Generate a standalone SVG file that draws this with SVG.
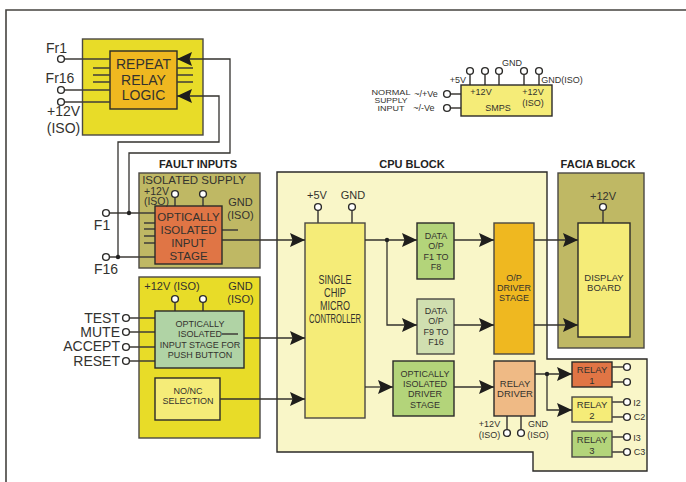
<svg xmlns="http://www.w3.org/2000/svg" width="686" height="482" viewBox="0 0 686 482">
<style>
text{font-family:"Liberation Sans",Arial,sans-serif;fill:#33322e;text-anchor:middle}
.b{stroke:#2b2a28;stroke-width:1.4}
.p{stroke:#4a4843;stroke-width:1.4}
.w{fill:none;stroke:#33322e;stroke-width:1.3}
.h{fill:none;stroke:#3f3d38;stroke-width:1.5}
.c{fill:#fff;stroke:#2b2a28;stroke-width:1.4}
.s8{font-size:8px}.s9{font-size:9px}.s95{font-size:9.500px}.s12{font-size:12px}.s105{font-size:10.500px}.s11{font-size:11px}.s115{font-size:11.500px}.s14{font-size:14px}
.t{font-size:11px;font-weight:bold;fill:#222}
.l{text-anchor:end}
.dot{fill:#222}
</style>
<defs>
<marker id="a" markerUnits="userSpaceOnUse" markerWidth="16" markerHeight="16" refX="15" refY="7.5" orient="auto"><path d="M0 0.500L15 7.500L0 14.500L2.500 7.500Z" fill="#1f1e1c"/></marker>
<circle id="o" r="3.4"/>
</defs>
<path id="frame" d="M6 482V10H686" fill="none" stroke="#45433f" stroke-width="1.6"/>
<g id="repeat-relay">
<rect class="p" x="82.5" y="39" width="120.5" height="96" fill="#e8dc28"/>
<rect class="b" x="110" y="51" width="67" height="58" fill="#efb820"/>
<path class="h" d="M93 68H110M93 75H110M93 82H110M177 68H193M177 75H193M177 82H193M64 59H110M64 90H110M64 102H110"/>
<text class="s14" x="143.500" y="69">REPEAT</text><text class="s14" x="143.500" y="85">RELAY</text><text class="s14" x="143.500" y="100">LOGIC</text>
<use href="#o" class="c" x="61" y="59"/><use href="#o" class="c" x="61" y="90"/><use href="#o" class="c" x="61" y="102"/>
<text class="s14" x="56.500" y="53">Fr1</text><text class="s14" x="60" y="83">Fr16</text><text class="s14" x="63.500" y="116">+12V</text><text class="s14" x="63.500" y="133">(ISO)</text>
</g>
<g id="fault-inputs">
<text class="t" x="198" y="168">FAULT INPUTS</text>
<rect class="p" x="139" y="173" width="121" height="95" fill="#bfb864"/>
<path class="h" d="M175 197V206M203 197V206M144 223H155M144 229H155M144 236H155M144 243H155M222 230H238M109 213H155M109 257H155"/>
<rect class="b" x="155" y="206" width="67" height="58" fill="#e07545"/>
<use href="#o" class="c" x="175" y="194"/><use href="#o" class="c" x="203" y="194"/><use href="#o" class="c" x="106" y="213"/><use href="#o" class="c" x="106" y="257"/>
<text class="s115" x="194" y="184">ISOLATED SUPPLY</text>
<text class="s105" x="156.500" y="194.500">+12V</text><text class="s105" x="156.500" y="204.500">(ISO)</text>
<text class="s11" x="240.500" y="206">GND</text><text class="s11" x="240.500" y="219">(ISO)</text>
<text class="s115" x="188.500" y="221">OPTICALLY</text><text class="s115" x="188.500" y="233.500">ISOLATED</text><text class="s115" x="188.500" y="247">INPUT</text><text class="s115" x="188.500" y="259.500">STAGE</text>
<text class="s14" x="102" y="230">F1</text><text class="s14" x="106" y="274">F16</text>
</g>
<g id="push-inputs">
<rect class="p" x="139" y="277" width="121" height="161" fill="#e8dc28"/>
<path class="h" d="M175 302V311M203 302V311M129 318H155M129 332H155M129 347H155M129 361H155"/>
<rect class="b" x="155" y="311" width="89" height="57" fill="#b0d3a5"/>
<use href="#o" class="c" x="175" y="299"/><use href="#o" class="c" x="203" y="299"/>
<use href="#o" class="c" x="126" y="318"/><use href="#o" class="c" x="126" y="332"/><use href="#o" class="c" x="126" y="347"/><use href="#o" class="c" x="126" y="361"/>
<text class="s11" x="172" y="290">+12V (ISO)</text><text class="s11" x="240.500" y="290">GND</text><text class="s11" x="240.500" y="303">(ISO)</text>
<text class="s9" x="200" y="327">OPTICALLY</text><text class="s9" x="200" y="337">ISOLATED</text><text class="s9" x="200" y="348">INPUT STAGE FOR</text><text class="s9" x="200" y="358">PUSH BUTTON</text>
<path class="h" d="M222 334H238"/>
<text class="s14 l" x="120" y="323">TEST</text><text class="s14 l" x="120" y="337">MUTE</text><text class="s14 l" x="120" y="351">ACCEPT</text><text class="s14 l" x="120" y="366">RESET</text>
<rect class="b" x="155" y="378" width="65" height="42" fill="#f5ec78"/>
<text class="s9" x="188" y="394">NO/NC</text><text class="s9" x="188" y="404">SELECTION</text>
</g>
<g id="smps">
<path class="h" d="M470 74V85M485 74V85M499 74V85M524 74V85M539 74V85M450 94H461M450 108H461"/>
<rect class="b" x="461" y="85" width="91" height="31" fill="#f5ec78"/>
<use href="#o" class="c" x="470" y="71"/><use href="#o" class="c" x="485" y="71"/><use href="#o" class="c" x="499" y="71"/><use href="#o" class="c" x="524" y="71"/><use href="#o" class="c" x="539" y="71"/><use href="#o" class="c" x="447" y="94"/><use href="#o" class="c" x="447" y="108"/>
<text class="s9" x="458" y="83">+5V</text><text class="s9" x="512" y="66">GND</text><text class="s9" x="562" y="83">GND(ISO)</text>
<text class="s9" x="481" y="95">+12V</text><text class="s9" x="533" y="95">+12V</text><text class="s9" x="533" y="106">(ISO)</text><text class="s9" x="498" y="111">SMPS</text>
<text class="s8" x="391" y="95" textLength="39" lengthAdjust="spacingAndGlyphs">NORMAL</text><text class="s8" x="391" y="103" textLength="33" lengthAdjust="spacingAndGlyphs">SUPPLY</text><text class="s8" x="391" y="111" textLength="27" lengthAdjust="spacingAndGlyphs">INPUT</text>
<text class="s9" x="426" y="97">~/+Ve</text><text class="s9" x="424" y="111">~/-Ve</text>
</g>
<g id="cpu-block">
<text class="t" x="412" y="168">CPU BLOCK</text>
<path class="b" d="M277 172H547V359H647V471H533V452H277Z" fill="#f9f6c8"/>
</g>
<g id="facia-block">
<text class="t" x="598" y="168">FACIA BLOCK</text>
<rect class="p" x="558" y="173" width="86" height="175" fill="#bfb864"/>
<path class="h" d="M603 210V223"/>
<rect class="b" x="578" y="223" width="52" height="114" fill="#f5ec78"/>
<use href="#o" class="c" x="603" y="207"/>
<text class="s11" x="603" y="200">+12V</text>
<text class="s95" x="604" y="281">DISPLAY</text><text class="s95" x="604" y="291">BOARD</text>
</g>
<g id="mcu">
<path class="h" d="M318 210V223M352 210V223"/>
<rect class="p" x="305" y="223" width="60" height="195" fill="#f5ec78"/>
<use href="#o" class="c" x="318" y="207"/><use href="#o" class="c" x="352" y="207"/>
<text class="s11" x="317" y="199">+5V</text><text class="s11" x="353" y="199">GND</text>
<text class="s12" x="335" y="284" textLength="33" lengthAdjust="spacingAndGlyphs">SINGLE</text><text class="s12" x="335" y="297" textLength="22" lengthAdjust="spacingAndGlyphs">CHIP</text><text class="s12" x="335" y="310" textLength="30" lengthAdjust="spacingAndGlyphs">MICRO</text><text class="s12" x="335" y="323" textLength="52" lengthAdjust="spacingAndGlyphs">CONTROLLER</text>
</g>
<g id="data-1"><rect class="b" x="417" y="223" width="37" height="56" fill="#b3d47a"/>
<text class="s9" x="436" y="239">DATA</text><text class="s9" x="436" y="249">O/P</text><text class="s9" x="436" y="260">F1 TO</text><text class="s9" x="436" y="270">F8</text></g>
<g id="data-2"><rect class="p" x="417" y="299" width="37" height="55" fill="#d0dfb0"/>
<text class="s9" x="436" y="314">DATA</text><text class="s9" x="436" y="324">O/P</text><text class="s9" x="436" y="335">F9 TO</text><text class="s9" x="436" y="345">F16</text></g>
<g id="op-driver"><rect class="p" x="494" y="223" width="40" height="131" fill="#efb820"/>
<text class="s9" x="514" y="281">O/P</text><text class="s9" x="514" y="291">DRIVER</text><text class="s9" x="514" y="301">STAGE</text></g>
<g id="iso-driver"><rect class="b" x="393" y="361" width="61" height="55" fill="#b3d47a"/>
<text class="s9" x="425" y="377">OPTICALLY</text><text class="s9" x="425" y="387">ISOLATED</text><text class="s9" x="425" y="397">DRIVER</text><text class="s9" x="425" y="408">STAGE</text></g>
<g id="relay-driver">
<path class="h" d="M507 416V430M521 416V430"/>
<rect class="b" x="494" y="361" width="41" height="55" fill="#efba85"/>
<use href="#o" class="c" x="507" y="433"/><use href="#o" class="c" x="521" y="433"/>
<text class="s95" x="515" y="387">RELAY</text><text class="s95" x="515" y="397">DRIVER</text>
<text class="s9" x="489.500" y="427">+12V</text><text class="s9" x="489.500" y="438">(ISO)</text><text class="s9" x="538" y="427">GND</text><text class="s9" x="538" y="438">(ISO)</text>
</g>
<g id="relay-1">
<path class="h" d="M612 367H624M612 382H624"/>
<rect class="b" x="572" y="362" width="40" height="25" fill="#e07545"/>
<use href="#o" class="c" x="627" y="367"/><use href="#o" class="c" x="627" y="382"/>
<text class="s95" x="592" y="373">RELAY</text><text class="s95" x="592" y="384">1</text>
</g>
<g id="relay-2">
<path class="h" d="M612 402H624M612 417H624"/>
<rect class="p" x="572" y="397" width="40" height="25" fill="#f5ec78"/>
<use href="#o" class="c" x="627" y="402"/><use href="#o" class="c" x="627" y="417"/>
<text class="s95" x="592" y="408">RELAY</text><text class="s95" x="592" y="419">2</text>
<text class="s9" x="637" y="405.500">I2</text><text class="s9" x="639.500" y="420">C2</text>
</g>
<g id="relay-3">
<path class="h" d="M612 437H624M612 452H624"/>
<rect class="p" x="572" y="431" width="40" height="26" fill="#b3d47a"/>
<use href="#o" class="c" x="627" y="437"/><use href="#o" class="c" x="627" y="452"/>
<text class="s95" x="592" y="443">RELAY</text><text class="s95" x="592" y="454">3</text>
<text class="s9" x="637" y="441">I3</text><text class="s9" x="639.500" y="455">C3</text>
</g>
<g id="connectors">
<path class="w" d="M129 213V153H230V59H177" marker-end="url(#a)"/>
<path class="w" d="M118 257V142H219V96H177" marker-end="url(#a)"/>
<path class="w" d="M222 240H305" marker-end="url(#a)"/>
<path class="w" d="M244 338H305" marker-end="url(#a)"/>
<path class="w" d="M220 399H305" marker-end="url(#a)"/>
<path class="w" d="M365 240H417" marker-end="url(#a)"/>
<path class="w" d="M387 240V325H417" marker-end="url(#a)"/>
<path class="w" d="M454 240H494" marker-end="url(#a)"/>
<path class="w" d="M454 325H494" marker-end="url(#a)"/>
<path class="w" d="M365 387H393" marker-end="url(#a)"/>
<path class="w" d="M454 387H494" marker-end="url(#a)"/>
<path class="w" d="M534 240H578" marker-end="url(#a)"/>
<path class="w" d="M534 325H578" marker-end="url(#a)"/>
<path class="w" d="M535 374H572" marker-end="url(#a)"/>
<path class="w" d="M547 374V410H572" marker-end="url(#a)"/>
<circle class="dot" cx="129" cy="213" r="2.200"/><circle class="dot" cx="118" cy="257" r="2.200"/><circle class="dot" cx="387" cy="240" r="2.200"/><circle class="dot" cx="547" cy="374" r="2.200"/>
</g>
</svg>
